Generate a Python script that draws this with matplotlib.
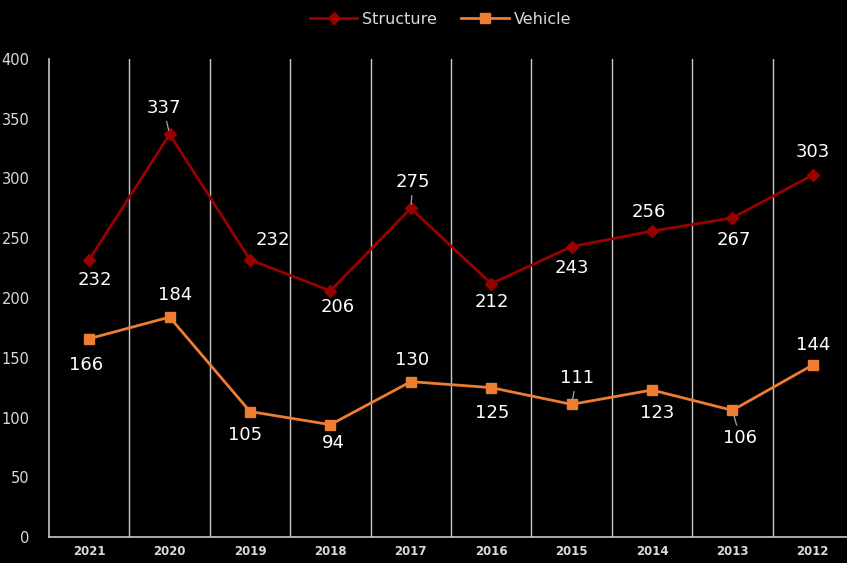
import numpy as np
import matplotlib.pyplot as plt

years = ['2021', '2020', '2019', '2018', '2017', '2016', '2015', '2014', '2013', '2012']
structure = [232, 337, 232, 206, 275, 212, 243, 256, 267, 303]
vehicle = [166, 184, 105, 94, 130, 125, 111, 123, 106, 144]

# label offsets in pixels (dx, dy), dy positive = up
structure_off = [(6, -20), (-6, 26), (23, 20), (7, -16), (2, 26), (1, -18), (0, -21), (-3, 19), (1, -22), (0, 23)]
vehicle_off = [(-3, -26), (6, 22), (-5, -23), (3, -18), (1, 22), (1, -25), (5, 26), (5, -23), (8, -28), (0, 20)]
structure_leader = [False, True, False, False, True, False, False, False, False, False]
vehicle_leader = [False, False, False, False, False, False, True, False, True, False]

bg = 'black'
grid_col = '#C8C8C8'
text_col = '#D9D9D9'

fig = plt.figure(figsize=(8.47, 5.63), dpi=100, facecolor=bg)
ax = fig.add_axes([49 / 847, 26 / 563, 804 / 847, 478 / 563])
ax.set_facecolor(bg)

x = np.arange(len(years))
ax.plot(x, structure, color='#990000', lw=2, marker='D', ms=6, label='Structure')
ax.plot(x, vehicle, color='#ED7D31', lw=2, marker='s', ms=7, label='Vehicle')

def add_labels(vals, offs, leaders):
    for i, v in enumerate(vals):
        dx, dy = offs[i]
        arrow = None
        if leaders[i]:
            arrow = dict(arrowstyle='-', color='#A6A6A6', lw=0.9, shrinkA=1, shrinkB=3)
        ax.annotate(str(v), (x[i], v), xytext=(dx, dy), textcoords='offset pixels',
                    ha='center', va='center', color='white', fontsize=13,
                    arrowprops=arrow)

add_labels(structure, structure_off, structure_leader)
add_labels(vehicle, vehicle_off, vehicle_leader)

ax.set_xlim(-0.5, len(years) - 0.5)
ax.set_ylim(0, 400)
ax.set_yticks(range(0, 401, 50))
ax.set_xticks(x)
ax.set_xticklabels(years, fontweight='bold', fontsize=8.5, color=text_col)
for xb in np.arange(0.5, len(years) - 0.5, 1):
    ax.axvline(xb, color=grid_col, lw=1, zorder=0)

ax.tick_params(axis='y', colors=text_col, labelsize=10.5, length=0, pad=14)
ax.tick_params(axis='x', colors=text_col, length=0, pad=6)
for s in ['top', 'right']:
    ax.spines[s].set_visible(False)
for s in ['left', 'bottom']:
    ax.spines[s].set_color(grid_col)
    ax.spines[s].set_linewidth(1.2)

leg = fig.legend(loc='upper center', bbox_to_anchor=(0.52, 1.005), ncol=2, frameon=False,
                 fontsize=11.5, labelcolor=text_col, handlelength=3, columnspacing=1.5,
                 handletextpad=0.3)

fig.savefig('out.png', dpi=100, facecolor=bg)
